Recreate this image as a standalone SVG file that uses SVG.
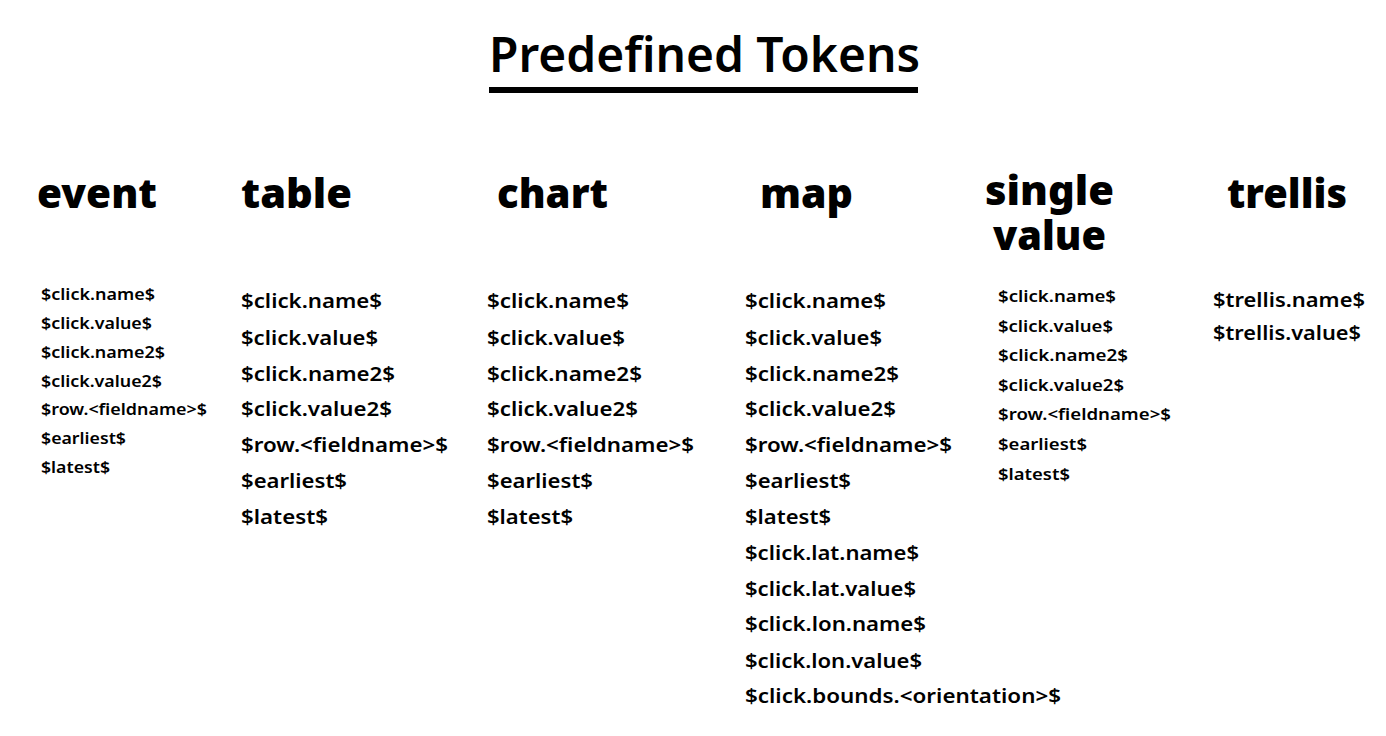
<svg xmlns="http://www.w3.org/2000/svg" width="1386" height="736" viewBox="0 0 1386 736">
<style>
text{font-family:"Noto Sans","DejaVu Sans",sans-serif;fill:#000}
.title{font-size:48px;font-weight:600}
.h{font-size:41px;font-weight:900}
.s{font-size:16px;font-weight:600}
.m{font-size:20px;font-weight:600}
</style>
<rect width="1386" height="736" fill="#fff"/>
<g id="title">
<text class="title" x="489" y="72" textLength="431" lengthAdjust="spacingAndGlyphs">Predefined Tokens</text>
<rect x="489" y="87" width="429" height="6" fill="#000"/>
</g>
<g id="event">
<text class="h" x="37" y="208" textLength="120" lengthAdjust="spacingAndGlyphs">event</text>
<text class="s" x="41" y="300" textLength="114" lengthAdjust="spacingAndGlyphs">$click.name$</text>
<text class="s" x="41" y="329" textLength="111" lengthAdjust="spacingAndGlyphs">$click.value$</text>
<text class="s" x="41" y="358" textLength="124" lengthAdjust="spacingAndGlyphs">$click.name2$</text>
<text class="s" x="41" y="387" textLength="121" lengthAdjust="spacingAndGlyphs">$click.value2$</text>
<text class="s" x="41" y="415" textLength="166" lengthAdjust="spacingAndGlyphs">$row.&lt;fieldname&gt;$</text>
<text class="s" x="41" y="444" textLength="85" lengthAdjust="spacingAndGlyphs">$earliest$</text>
<text class="s" x="41" y="473" textLength="69" lengthAdjust="spacingAndGlyphs">$latest$</text>
</g>
<g id="table">
<text class="h" x="241" y="208" textLength="111" lengthAdjust="spacingAndGlyphs">table</text>
<text class="m" x="241" y="308" textLength="141" lengthAdjust="spacingAndGlyphs">$click.name$</text>
<text class="m" x="241" y="345" textLength="137" lengthAdjust="spacingAndGlyphs">$click.value$</text>
<text class="m" x="241" y="381" textLength="154" lengthAdjust="spacingAndGlyphs">$click.name2$</text>
<text class="m" x="241" y="416" textLength="151" lengthAdjust="spacingAndGlyphs">$click.value2$</text>
<text class="m" x="241" y="452" textLength="207" lengthAdjust="spacingAndGlyphs">$row.&lt;fieldname&gt;$</text>
<text class="m" x="241" y="488" textLength="106" lengthAdjust="spacingAndGlyphs">$earliest$</text>
<text class="m" x="241" y="524" textLength="87" lengthAdjust="spacingAndGlyphs">$latest$</text>
</g>
<g id="chart">
<text class="h" x="497" y="208" textLength="111" lengthAdjust="spacingAndGlyphs">chart</text>
<text class="m" x="487" y="308" textLength="142" lengthAdjust="spacingAndGlyphs">$click.name$</text>
<text class="m" x="487" y="345" textLength="138" lengthAdjust="spacingAndGlyphs">$click.value$</text>
<text class="m" x="487" y="381" textLength="155" lengthAdjust="spacingAndGlyphs">$click.name2$</text>
<text class="m" x="487" y="416" textLength="151" lengthAdjust="spacingAndGlyphs">$click.value2$</text>
<text class="m" x="487" y="452" textLength="207" lengthAdjust="spacingAndGlyphs">$row.&lt;fieldname&gt;$</text>
<text class="m" x="487" y="488" textLength="106" lengthAdjust="spacingAndGlyphs">$earliest$</text>
<text class="m" x="487" y="524" textLength="86" lengthAdjust="spacingAndGlyphs">$latest$</text>
</g>
<g id="map">
<text class="h" x="760" y="208" textLength="93" lengthAdjust="spacingAndGlyphs">map</text>
<text class="m" x="745" y="308" textLength="141" lengthAdjust="spacingAndGlyphs">$click.name$</text>
<text class="m" x="745" y="345" textLength="137" lengthAdjust="spacingAndGlyphs">$click.value$</text>
<text class="m" x="745" y="381" textLength="154" lengthAdjust="spacingAndGlyphs">$click.name2$</text>
<text class="m" x="745" y="416" textLength="151" lengthAdjust="spacingAndGlyphs">$click.value2$</text>
<text class="m" x="745" y="452" textLength="207" lengthAdjust="spacingAndGlyphs">$row.&lt;fieldname&gt;$</text>
<text class="m" x="745" y="488" textLength="106" lengthAdjust="spacingAndGlyphs">$earliest$</text>
<text class="m" x="745" y="524" textLength="86" lengthAdjust="spacingAndGlyphs">$latest$</text>
<text class="m" x="745" y="560" textLength="174" lengthAdjust="spacingAndGlyphs">$click.lat.name$</text>
<text class="m" x="745" y="596" textLength="171" lengthAdjust="spacingAndGlyphs">$click.lat.value$</text>
<text class="m" x="745" y="631" textLength="181" lengthAdjust="spacingAndGlyphs">$click.lon.name$</text>
<text class="m" x="745" y="668" textLength="177" lengthAdjust="spacingAndGlyphs">$click.lon.value$</text>
<text class="m" x="745" y="703" textLength="316" lengthAdjust="spacingAndGlyphs">$click.bounds.&lt;orientation&gt;$</text>
</g>
<g id="single-value">
<text class="h"><tspan x="985" y="205" textLength="129" lengthAdjust="spacingAndGlyphs">single</tspan><tspan x="993" y="250" textLength="113" lengthAdjust="spacingAndGlyphs">value</tspan></text>
<text class="s" x="998" y="302" textLength="118" lengthAdjust="spacingAndGlyphs">$click.name$</text>
<text class="s" x="998" y="332" textLength="115" lengthAdjust="spacingAndGlyphs">$click.value$</text>
<text class="s" x="998" y="361" textLength="130" lengthAdjust="spacingAndGlyphs">$click.name2$</text>
<text class="s" x="998" y="391" textLength="126" lengthAdjust="spacingAndGlyphs">$click.value2$</text>
<text class="s" x="998" y="420" textLength="173" lengthAdjust="spacingAndGlyphs">$row.&lt;fieldname&gt;$</text>
<text class="s" x="998" y="450" textLength="89" lengthAdjust="spacingAndGlyphs">$earliest$</text>
<text class="s" x="998" y="480" textLength="72" lengthAdjust="spacingAndGlyphs">$latest$</text>
</g>
<g id="trellis">
<text class="h" x="1227" y="208" textLength="120" lengthAdjust="spacingAndGlyphs">trellis</text>
<text class="m" x="1213" y="307" textLength="152" lengthAdjust="spacingAndGlyphs">$trellis.name$</text>
<text class="m" x="1213" y="340" textLength="148" lengthAdjust="spacingAndGlyphs">$trellis.value$</text>
</g>
</svg>
